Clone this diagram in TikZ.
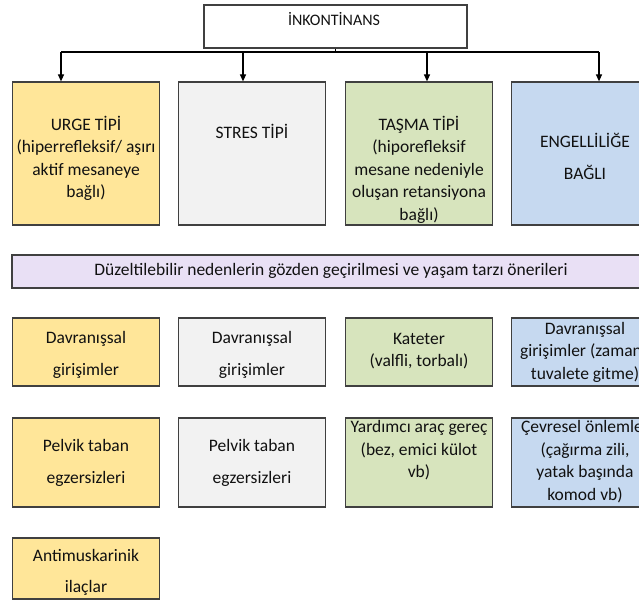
\documentclass[tikz,border=0pt]{standalone}
\usepackage{fontspec}
\setmainfont{Carlito}
\usetikzlibrary{arrows.meta}

\definecolor{urgefill}{HTML}{FFE699}
\definecolor{stresfill}{HTML}{F2F2F2}
\definecolor{tasmafill}{HTML}{D7E4BD}
\definecolor{engelfill}{HTML}{C6D9F0}
\definecolor{barfill}{HTML}{E9E0F5}
\definecolor{edge}{HTML}{404040}
\definecolor{ink}{HTML}{111111}

\tikzset{
  box/.style={draw=edge, line width=1.2pt, minimum width=147pt, inner sep=0pt},
  txt/.style={text=ink, align=center, inner sep=0pt, font=\fontsize{17.5}{22.5}\selectfont},
  widetxt/.style={txt, font=\fontsize{17.5}{31.5}\selectfont},
  link/.style={line width=1.2pt, black},
}

\begin{document}
\begin{tikzpicture}[x=1pt, y=-1pt]
  \useasboundingbox (0,0) rectangle (639,601);
  \clip (0,0) rectangle (639,601);

  % top box
  \node[box, fill=white, minimum width=263pt, minimum height=43pt] (root) at (335.5,26.5) {};
  \node[txt, font=\fontsize{16}{20}\selectfont] (rootlbl) at (334,19) {İNKONTİNANS};

  % four columns, three rows of boxes
  \foreach \name/\x in {urge/86, stres/252, tasma/419, engel/585} {
    \node[box, fill=\name fill, minimum height=143pt] (\name) at (\x,153.5) {};
    \node[box, fill=\name fill, minimum height=68pt] (\name B) at (\x,352) {};
    \node[box, fill=\name fill, minimum height=89pt] (\name C) at (\x,462.5) {};
  }
  \node[box, fill=urgefill, minimum height=61pt] (urgeD) at (86,568.5) {};

  % wide bar
  \node[box, fill=barfill, minimum width=647pt, minimum height=33pt] (bar) at (335.5,271.5) {};
  \node[txt] (barlbl) at (331,271) {Düzeltilebilir nedenlerin gözden geçirilmesi ve yaşam tarzı önerileri};

  % connectors
  \coordinate (hub) at (335.5,52);
  \coordinate (busA) at (61,52);
  \coordinate (busB) at (243,52);
  \coordinate (busC) at (427,52);
  \coordinate (busD) at (599,52);
  \draw[link] (root.south) -- (hub);
  \draw[link] (busA) -- (busD);
  \foreach \b/\n in {busA/urge, busB/stres, busC/tasma, busD/engel}
    \draw[link, -{Triangle[width=6pt,length=7pt]}] (\b) -- (\b |- \n.north);

  % row 1 labels
  \node[txt] (urgelbl) at (86,158.5) {URGE TİPİ\\(hiperrefleksif/ aşırı\\aktif mesaneye\\bağlı)};
  \node[txt] (streslbl) at (252,131) {STRES TİPİ};
  \node[txt] (tasmalbl) at (419,169.5) {TAŞMA TİPİ\\(hiporefleksif\\mesane nedeniyle\\oluşan retansiyona\\bağlı)};
  \node[widetxt] (engellbl) at (585,156.5) {ENGELLİLİĞE\\BAĞLI};

  % row 2 labels
  \node[widetxt] (urgeBlbl) at (86,355) {Davranışsal\\girişimler};
  \node[widetxt] (stresBlbl) at (252,355) {Davranışsal\\girişimler};
  \node[txt] (tasmaBlbl) at (419,351) {Kateter\\(valfli, torbalı)};
  \node[txt] (engelBlbl) at (585,352) {Davranışsal\\girişimler (zamanlı\\tuvalete gitme)};

  % row 3 labels
  \node[widetxt] (urgeClbl) at (86,463) {Pelvik taban\\egzersizleri};
  \node[widetxt] (stresClbl) at (252,463) {Pelvik taban\\egzersizleri};
  \node[txt] (tasmaClbl) at (419,450.5) {Yardımcı araç gereç\\(bez, emici külot\\vb)};
  \node[txt] (engelClbl) at (585,461.5) {Çevresel önlemler\\(çağırma zili,\\yatak başında\\komod vb)};

  % row 4 label
  \node[widetxt] (urgeDlbl) at (86,572.5) {Antimuskarinik\\ilaçlar};
\end{tikzpicture}
\end{document}
